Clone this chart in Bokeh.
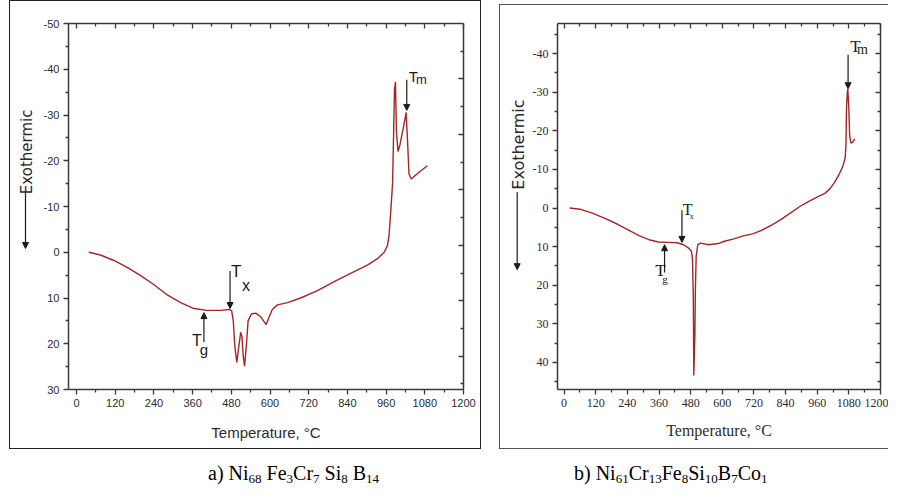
import numpy as np
from math import pi
from bokeh.plotting import figure
from bokeh.models import Range1d, LinearAxis, FixedTicker, Label, Arrow, NormalHead, Div, Spacer
from bokeh.layouts import row, column
from bokeh.embed import file_html
from bokeh.resources import INLINE

# ---------------- data ----------------
# a) Ni68 Fe3Cr7 Si8 B14 DSC trace
temp_a = [38, 74, 116, 157, 199, 240, 281, 323, 364, 405, 447, 473, 481, 486, 491, 497,
          503, 509, 513, 517, 521, 527, 532, 542, 556, 571, 581, 588, 597, 607, 623, 654,
          695, 747, 799, 850, 902, 933, 954, 964, 969, 974, 980, 983, 986, 989, 992, 997,
          1003, 1015, 1022, 1026, 1031, 1038, 1062, 1088]
heat_a = [0.0, 0.6, 1.8, 3.3, 5.1, 7.1, 9.3, 11.0, 12.3, 12.7, 12.7, 12.5, 12.8, 15.0, 20.7, 24.1,
          20.7, 17.5, 18.5, 22.8, 24.9, 20.0, 15.0, 13.5, 13.3, 14.1, 15.1, 15.8, 14.2, 12.5, 11.5, 11.0,
          10.0, 8.4, 6.4, 4.6, 2.8, 1.4, 0.0, -1.4, -3.6, -8.5, -15.0, -25.0, -35.6, -37.2, -26.4, -22.0,
          -23.5, -27.8, -30.6, -25.0, -17.1, -16.0, -17.5, -18.9]

# b) Ni61Cr13Fe8Si10B7Co1 DSC trace
temp_b = [21, 60, 107, 155, 203, 250, 286, 322, 358, 393, 429, 453, 471, 483, 487, 490, 492,
          496, 498, 501, 507, 518, 548, 584, 608, 644, 679, 715, 751, 787, 822, 858, 894,
          930, 965, 989, 1007, 1025, 1043, 1057, 1066, 1069, 1071, 1074, 1076, 1080, 1083,
          1088, 1094, 1102]
heat_b = [0.0, 0.3, 1.3, 2.7, 4.2, 5.9, 7.2, 8.2, 8.8, 8.9, 9.0, 9.5, 10.3, 11.2, 13.3, 22.6, 43.4,
          32.8, 20.9, 12.5, 9.5, 9.1, 9.5, 9.2, 8.6, 8.0, 7.2, 6.7, 5.7, 4.4, 3.0, 1.3, -0.4,
          -1.8, -3.0, -3.8, -4.9, -6.6, -8.7, -10.8, -13.0, -16.4, -25.7, -29.9, -30.9, -25.7, -18.9,
          -16.8, -17.0, -17.9]

x_ticks = [0, 120, 240, 360, 480, 600, 720, 840, 960, 1080, 1200]
x_minor = [60, 180, 300, 420, 540, 660, 780, 900, 1020, 1140]
y_ticks_a = [-50, -40, -30, -20, -10, 0, 10, 20, 30]
y_minor_a = [-45, -35, -25, -15, -5, 5, 15, 25]
y_ticks_b = [-40, -30, -20, -10, 0, 10, 20, 30, 40]
y_minor_b = [-45, -35, -25, -15, -5, 5, 15, 25, 35, 45]

# transition markers: glass transition, crystallisation, melting
mark_sub = ["g", "x", "m"]
mark_temp_a = [395, 476, 1024]
mark_tail_a = [19.6, 4.1, -37.7]
mark_tip_a = [13.2, 12.3, -31.0]
mark_temp_b = [381, 447, 1077]
mark_tail_b = [16.7, 0.6, -39.7]
mark_tip_b = [9.5, 8.9, -30.9]

caption_a = 'a) Ni<sub>68</sub> Fe<sub>3</sub>Cr<sub>7</sub> Si<sub>8</sub> B<sub>14</sub>'
caption_b = 'b) Ni<sub>61</sub>Cr<sub>13</sub>Fe<sub>8</sub>Si<sub>10</sub>B<sub>7</sub>Co<sub>1</sub>'

AX = "#3a3a3a"
INK = "#1a1a1a"
CURVE = "#a3262a"
H = 449
NARROW = "Liberation Sans Narrow"


def style_axis(ax, font, size, inward=False, labels=True):
    ax.axis_line_color = AX
    ax.axis_line_width = 1.5
    ax.major_tick_line_color = AX
    ax.minor_tick_line_color = AX
    ax.major_tick_line_width = 1.3
    ax.minor_tick_line_width = 1.3
    if inward:
        ax.major_tick_in, ax.major_tick_out = 5, 0
        ax.minor_tick_in, ax.minor_tick_out = 3, 0
    else:
        ax.major_tick_in, ax.major_tick_out = 0, 5
        ax.minor_tick_in, ax.minor_tick_out = 0, 3
    ax.major_label_text_font = font
    ax.major_label_text_font_size = size
    ax.major_label_text_color = "#2b2b2b"
    ax.major_label_standoff = 4
    if not labels:
        ax.major_label_text_color = None
        ax.major_label_text_font_size = "1px"
        ax.major_label_standoff = 0


def build(width, yr, yt, ym, borders, font, tick_size, label_size, xlabel_standoff):
    p = figure(width=width, height=H, output_backend="svg", toolbar_location=None,
               x_range=Range1d(-25, 1200), y_range=yr,
               min_border_left=borders[0], min_border_right=borders[1],
               min_border_top=borders[2], min_border_bottom=borders[3])
    p.grid.visible = False
    p.outline_line_color = None
    p.border_fill_color = None
    p.xaxis.ticker = FixedTicker(ticks=x_ticks, minor_ticks=x_minor)
    p.yaxis.ticker = FixedTicker(ticks=yt, minor_ticks=ym)
    style_axis(p.xaxis[0], font, tick_size)
    style_axis(p.yaxis[0], font, tick_size)
    p.yaxis.major_label_overrides = {v: str(v) for v in yt}
    p.xaxis.axis_label = "Temperature, \u00b0C"
    p.xaxis.axis_label_text_font = font
    p.xaxis.axis_label_text_font_size = label_size
    p.xaxis.axis_label_text_font_style = "normal"
    p.xaxis.axis_label_text_color = "#2b2b2b"
    p.xaxis.axis_label_standoff = xlabel_standoff
    top = LinearAxis(ticker=FixedTicker(ticks=x_ticks, minor_ticks=x_minor))
    style_axis(top, font, tick_size, inward=True, labels=False)
    p.add_layout(top, "above")
    return p


def side(width):
    s = figure(width=width, height=H, output_backend="svg", toolbar_location=None,
               x_range=Range1d(0, width), y_range=Range1d(H, 0),
               x_axis_type=None, y_axis_type=None, min_border=0)
    s.grid.visible = False
    s.outline_line_color = None
    s.background_fill_color = None
    s.border_fill_color = None
    return s


def add_arrow(p, x, y0, y1, size=6, width=1.2):
    p.add_layout(Arrow(end=NormalHead(size=size, fill_color=INK, line_color=INK, line_width=1),
                       x_start=x, y_start=y0, x_end=x, y_end=y1,
                       line_color=INK, line_width=width))


def add_text(p, x, y, text, font, size, **kw):
    p.add_layout(Label(x=x, y=y, text=text, text_font=font, text_font_size=size,
                       text_color=kw.get("color", INK), text_align=kw.get("align", "left"),
                       text_baseline=kw.get("baseline", "top"), angle=kw.get("angle", 0)))


def line_css(color, lines):
    return {"background": ", ".join(
        f"linear-gradient({color},{color}) {pos} / {size} no-repeat" for pos, size in lines)}


# ---------------- panel a ----------------
sa = side(38)
add_text(sa, 26, 157.5, "Exothermic", "DejaVu Sans", "15px", color="#2b2b2b",
         align="center", baseline="middle", angle=pi / 2)
add_arrow(sa, 25, 207, 276)
sa.styles = line_css("#222", [("9px 0", "1px 100%"), ("9px 0", "100% 1px"),
                              ("9px 100%", "100% 1px")])

pa = build(443, Range1d(30, -50), y_ticks_a, y_minor_a, (30, 18, 16, 60),
           "Liberation Sans", "11px", "15px", 14)
pa.extra_y_ranges = {"r": Range1d(-0.2, 13.0)}
ra = LinearAxis(y_range_name="r", ticker=FixedTicker(ticks=[1, 3, 5, 7, 9, 11],
                                                      minor_ticks=[0, 2, 4, 6, 8, 10, 12]))
style_axis(ra, "Liberation Sans", "11px", inward=True, labels=False)
pa.add_layout(ra, "right")
pa.line(temp_a, heat_a, line_color=CURVE, line_width=1.4)
pa.styles = line_css("#222", [("0 0", "100% 1px"), ("100% 0", "1px 100%"),
                              ("0 100%", "100% 1px")])

for i in range(3):
    add_arrow(pa, mark_temp_a[i], mark_tail_a[i], mark_tip_a[i])
add_text(pa, 358, 17.4, "T", "Liberation Sans", "16px")
add_text(pa, 382, 19.5, mark_sub[0], "Liberation Sans", "15px")
add_text(pa, 479, 2.1, "T", "Liberation Sans", "17px")
add_text(pa, 513, 5.5, mark_sub[1], "Liberation Sans", "16px")
add_text(pa, 1030, -40.3, "T", "Liberation Sans", "15px")
add_text(pa, 1053, -39.4, mark_sub[2], "Liberation Sans", "13px")

# ---------------- panel b ----------------
sb = side(30)
add_text(sb, 19, 148.5, "Exothermic", "DejaVu Sans", "16px", color="#2b2b2b",
         align="center", baseline="middle", angle=pi / 2)
add_arrow(sb, 17.7, 207, 302)
sb.styles = line_css("#555", [("0 4px", "1px 100%"), ("0 4px", "100% 1px"),
                              ("0 100%", "100% 1px")])

pb = build(359, Range1d(47.0, -47.8), y_ticks_b, y_minor_b, (24, 8, 23, 53),
           NARROW, "12px", "16px", 12)
rb = LinearAxis(ticker=FixedTicker(ticks=y_ticks_b, minor_ticks=y_minor_b))
style_axis(rb, NARROW, "12px", inward=True, labels=False)
pb.add_layout(rb, "right")
pb.line(temp_b, heat_b, line_color=CURVE, line_width=1.4)
pb.styles = line_css("#555", [("0 4px", "100% 1px"), ("0 100%", "100% 1px")])

for i in range(3):
    add_arrow(pb, mark_temp_b[i], mark_tail_b[i], mark_tip_b[i])
add_text(pb, 346, 13.7, "T", NARROW, "17px")
add_text(pb, 372, 16.9, mark_sub[0], NARROW, "11px")
add_text(pb, 450, -1.9, "T", NARROW, "16px")
add_text(pb, 477, 1.0, mark_sub[1], NARROW, "8px")
add_text(pb, 1085, -44.4, "T", NARROW, "17px")
add_text(pb, 1111, -43.1, mark_sub[2], NARROW, "14px")

# ---------------- captions ----------------
sub_css = "<sub style=\"font-size:13px;vertical-align:-3px\">"
cap_html = (
    '<div style="position:relative;width:888px;height:36px;overflow:hidden;'
    'font-family:\'Liberation Serif\';font-size:20px;line-height:22px;color:#000;">'
    '<span style="position:absolute;left:203px;top:8px;white-space:nowrap">'
    + caption_a.replace("<sub>", sub_css) +
    '</span><span style="position:absolute;left:569px;top:8px;white-space:nowrap">'
    + caption_b.replace("<sub>", sub_css) +
    '</span></div>'
)
captions = Div(text=cap_html, width=888, height=36, styles={"overflow": "hidden"})

layout = column(row(sa, pa, Spacer(width=18, height=H), sb, pb), captions)
open("out.html", "w").write(file_html(layout, INLINE))
